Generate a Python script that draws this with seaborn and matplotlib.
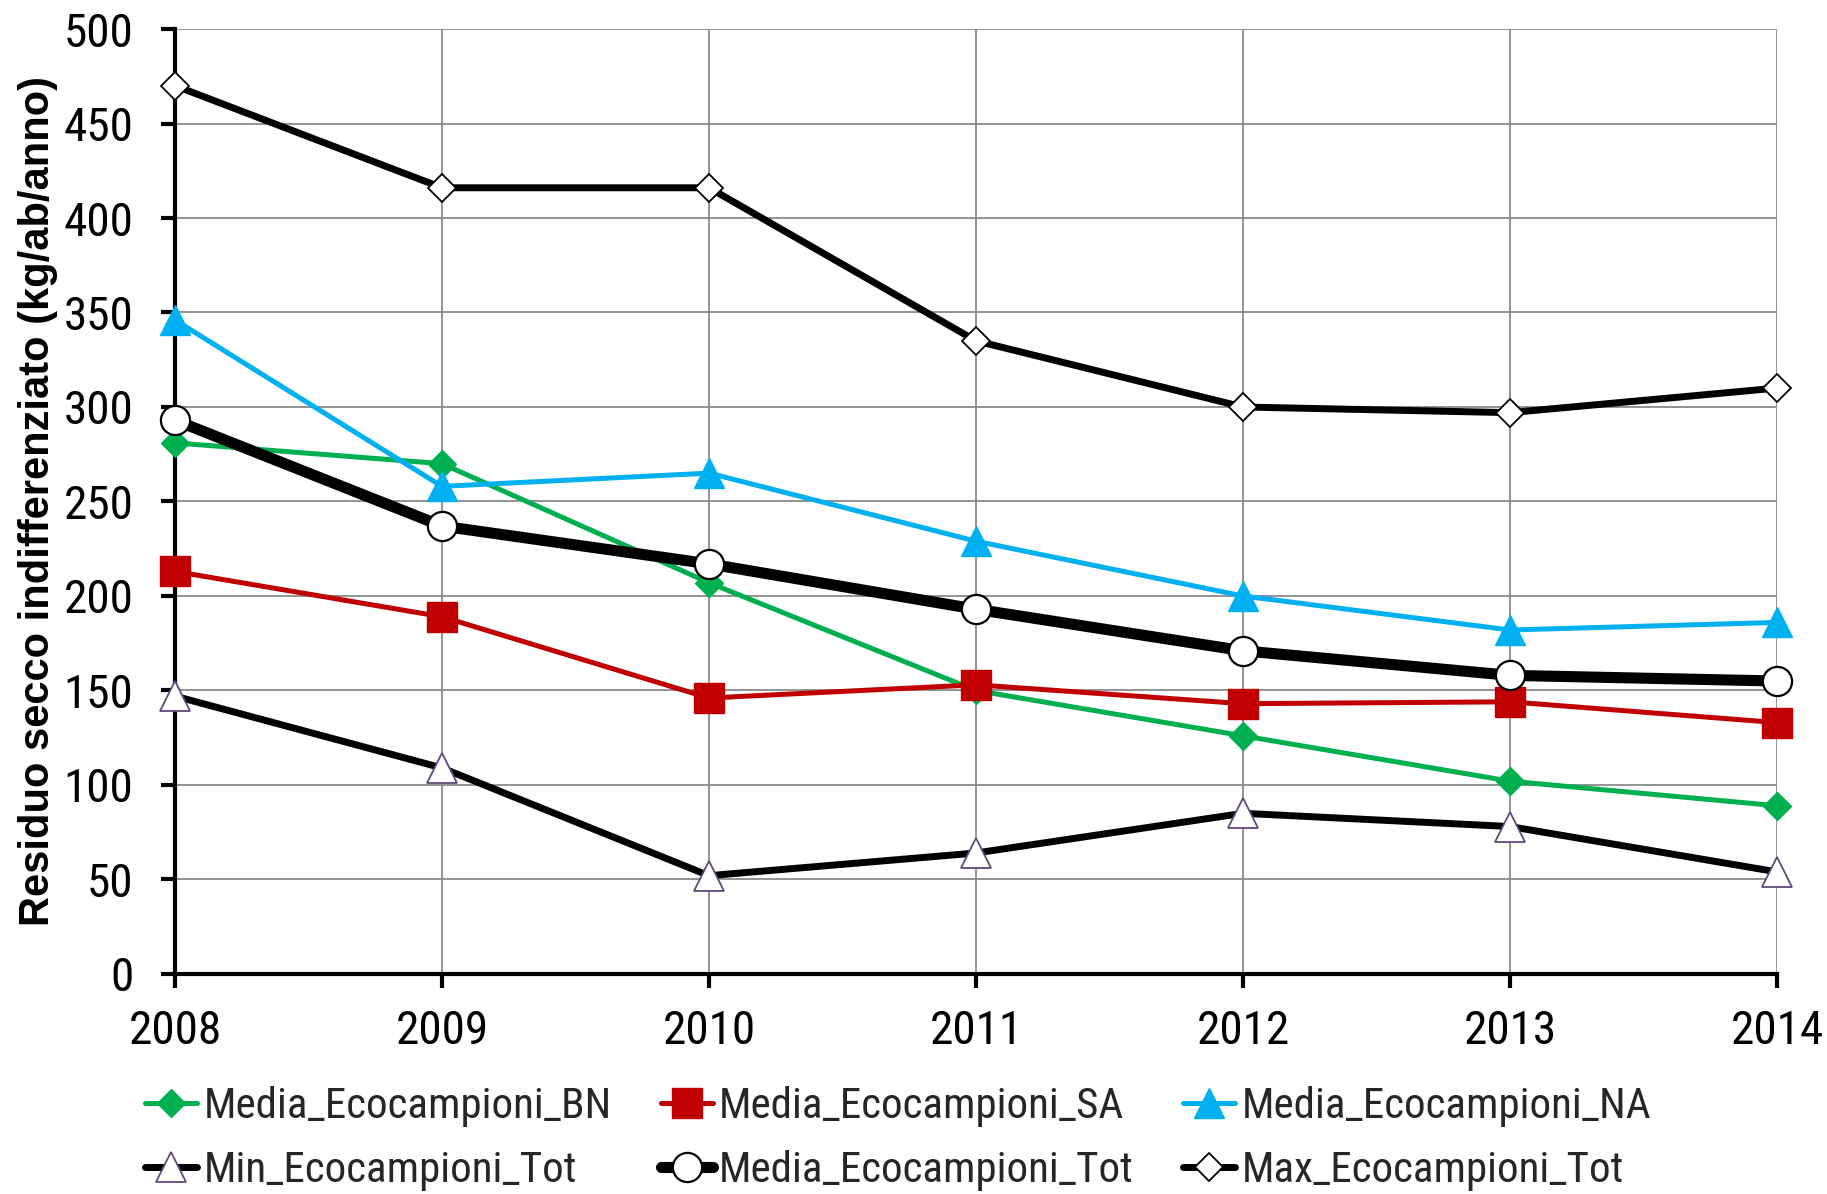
import numpy as np
import pandas as pd
import matplotlib
matplotlib.use('Agg')
import matplotlib.pyplot as plt
from matplotlib import font_manager
import seaborn as sns

years = [2008, 2009, 2010, 2011, 2012, 2013, 2014]
media_bn = [281, 270, 207, 150, 126, 102, 89]
media_sa = [213, 189, 146, 153, 143, 144, 133]
media_na = [346, 258, 265, 229, 200, 182, 186]
min_tot = [147, 109, 52, 64, 85, 78, 54]
media_tot = [293, 237, 217, 193, 171, 158, 155]
max_tot = [470, 416, 416, 335, 300, 297, 310]

names = ['Media_Ecocampioni_BN', 'Media_Ecocampioni_SA', 'Media_Ecocampioni_NA',
         'Min_Ecocampioni_Tot', 'Media_Ecocampioni_Tot', 'Max_Ecocampioni_Tot']
series = [media_bn, media_sa, media_na, min_tot, media_tot, max_tot]

sns.set_theme(style='white')

# look for a narrow font (the original uses Arial Narrow)
installed = {f.name: f.stretch for f in font_manager.fontManager.ttflist}
narrow_family = None
for cand in ['Liberation Sans Narrow', 'Arial Narrow', 'Roboto Condensed',
             'Open Sans Condensed', 'Noto Sans Condensed']:
    if cand in installed:
        narrow_family = cand
        break
cond_dejavu = any(f.name == 'DejaVu Sans' and f.stretch in ('condensed', 'semi-condensed')
                  for f in font_manager.fontManager.ttflist)
if narrow_family is None:
    narrow_family = 'DejaVu Sans'
    if cond_dejavu:
        plt.rcParams['font.stretch'] = 'condensed'
plt.rcParams['font.family'] = [narrow_family, 'DejaVu Sans']

# line / marker style per series (Excel-like)
styles = [
    dict(color='#00B050', lw=3.6, marker='D', ms=14, mfc='#00B050', mec='#00B050', mew=1),
    dict(color='#C00000', lw=3.6, marker='s', ms=21, mfc='#C00000', mec='#C00000', mew=1),
    dict(color='#00B0F0', lw=3.6, marker='^', ms=22, mfc='#00B0F0', mec='#00B0F0', mew=1),
    dict(color='black', lw=5.0, marker='^', ms=21, mfc='white', mec='#604A7B', mew=1.3),
    dict(color='black', lw=8.0, marker='o', ms=21, mfc='white', mec='black', mew=1.6),
    dict(color='black', lw=5.0, marker='D', ms=14, mfc='white', mec='black', mew=1.3),
]

fig = plt.figure(figsize=(18.27, 11.94), dpi=100)
ax = fig.add_axes([0.0958, 0.1843, 0.8768, 0.7914])

for name, vals, st in zip(names, series, styles):
    df = pd.DataFrame({'anno': years, 'valore': vals})
    sns.lineplot(data=df, x='anno', y='valore', ax=ax, label=name,
                 color=st['color'], linewidth=st['lw'], marker=st['marker'],
                 markersize=st['ms'], markerfacecolor=st['mfc'],
                 markeredgecolor=st['mec'], markeredgewidth=st['mew'],
                 clip_on=False, zorder=3)

ax.set_xlim(2008, 2014)
ax.set_ylim(0, 500)
ax.set_xticks(years)
ax.set_yticks(np.arange(0, 501, 50))
ax.grid(True, color='#8a8a8a', linewidth=1.3)
ax.set_axisbelow(True)

for s in ['top', 'right']:
    ax.spines[s].set_visible(False)
for s in ['left', 'bottom']:
    ax.spines[s].set_color('black')
    ax.spines[s].set_linewidth(3)
    ax.spines[s].set_zorder(2.5)

ax.tick_params(axis='both', which='major', direction='out', length=10, width=3,
               color='black', labelsize=34, labelcolor='black')
ax.tick_params(axis='y', pad=20, left=True)
ax.tick_params(axis='x', pad=15, bottom=True)

ax.set_xlabel('')
ax.set_ylabel('Residuo secco indifferenziato (kg/ab/anno)', fontsize=30,
              fontweight='bold', family=['Liberation Sans', 'DejaVu Sans'],
              fontstretch='normal', color='black')
ax.yaxis.set_label_coords(-0.073, 0.5)

ax.legend().remove()
handles, labels = ax.get_legend_handles_labels()
# matplotlib fills legend columns first -> reorder so rows read BN, SA, NA / Min, Media, Max
order = [0, 3, 1, 4, 2, 5]
fig.legend([handles[i] for i in order], [labels[i] for i in order],
           loc='center', bbox_to_anchor=(0.4916, 0.0465), ncol=3,
           frameon=False, fontsize=31, handlelength=1.2, handletextpad=0.15,
           columnspacing=1.15, labelspacing=0.55, borderpad=0)

plt.savefig('out.png', dpi=100)
